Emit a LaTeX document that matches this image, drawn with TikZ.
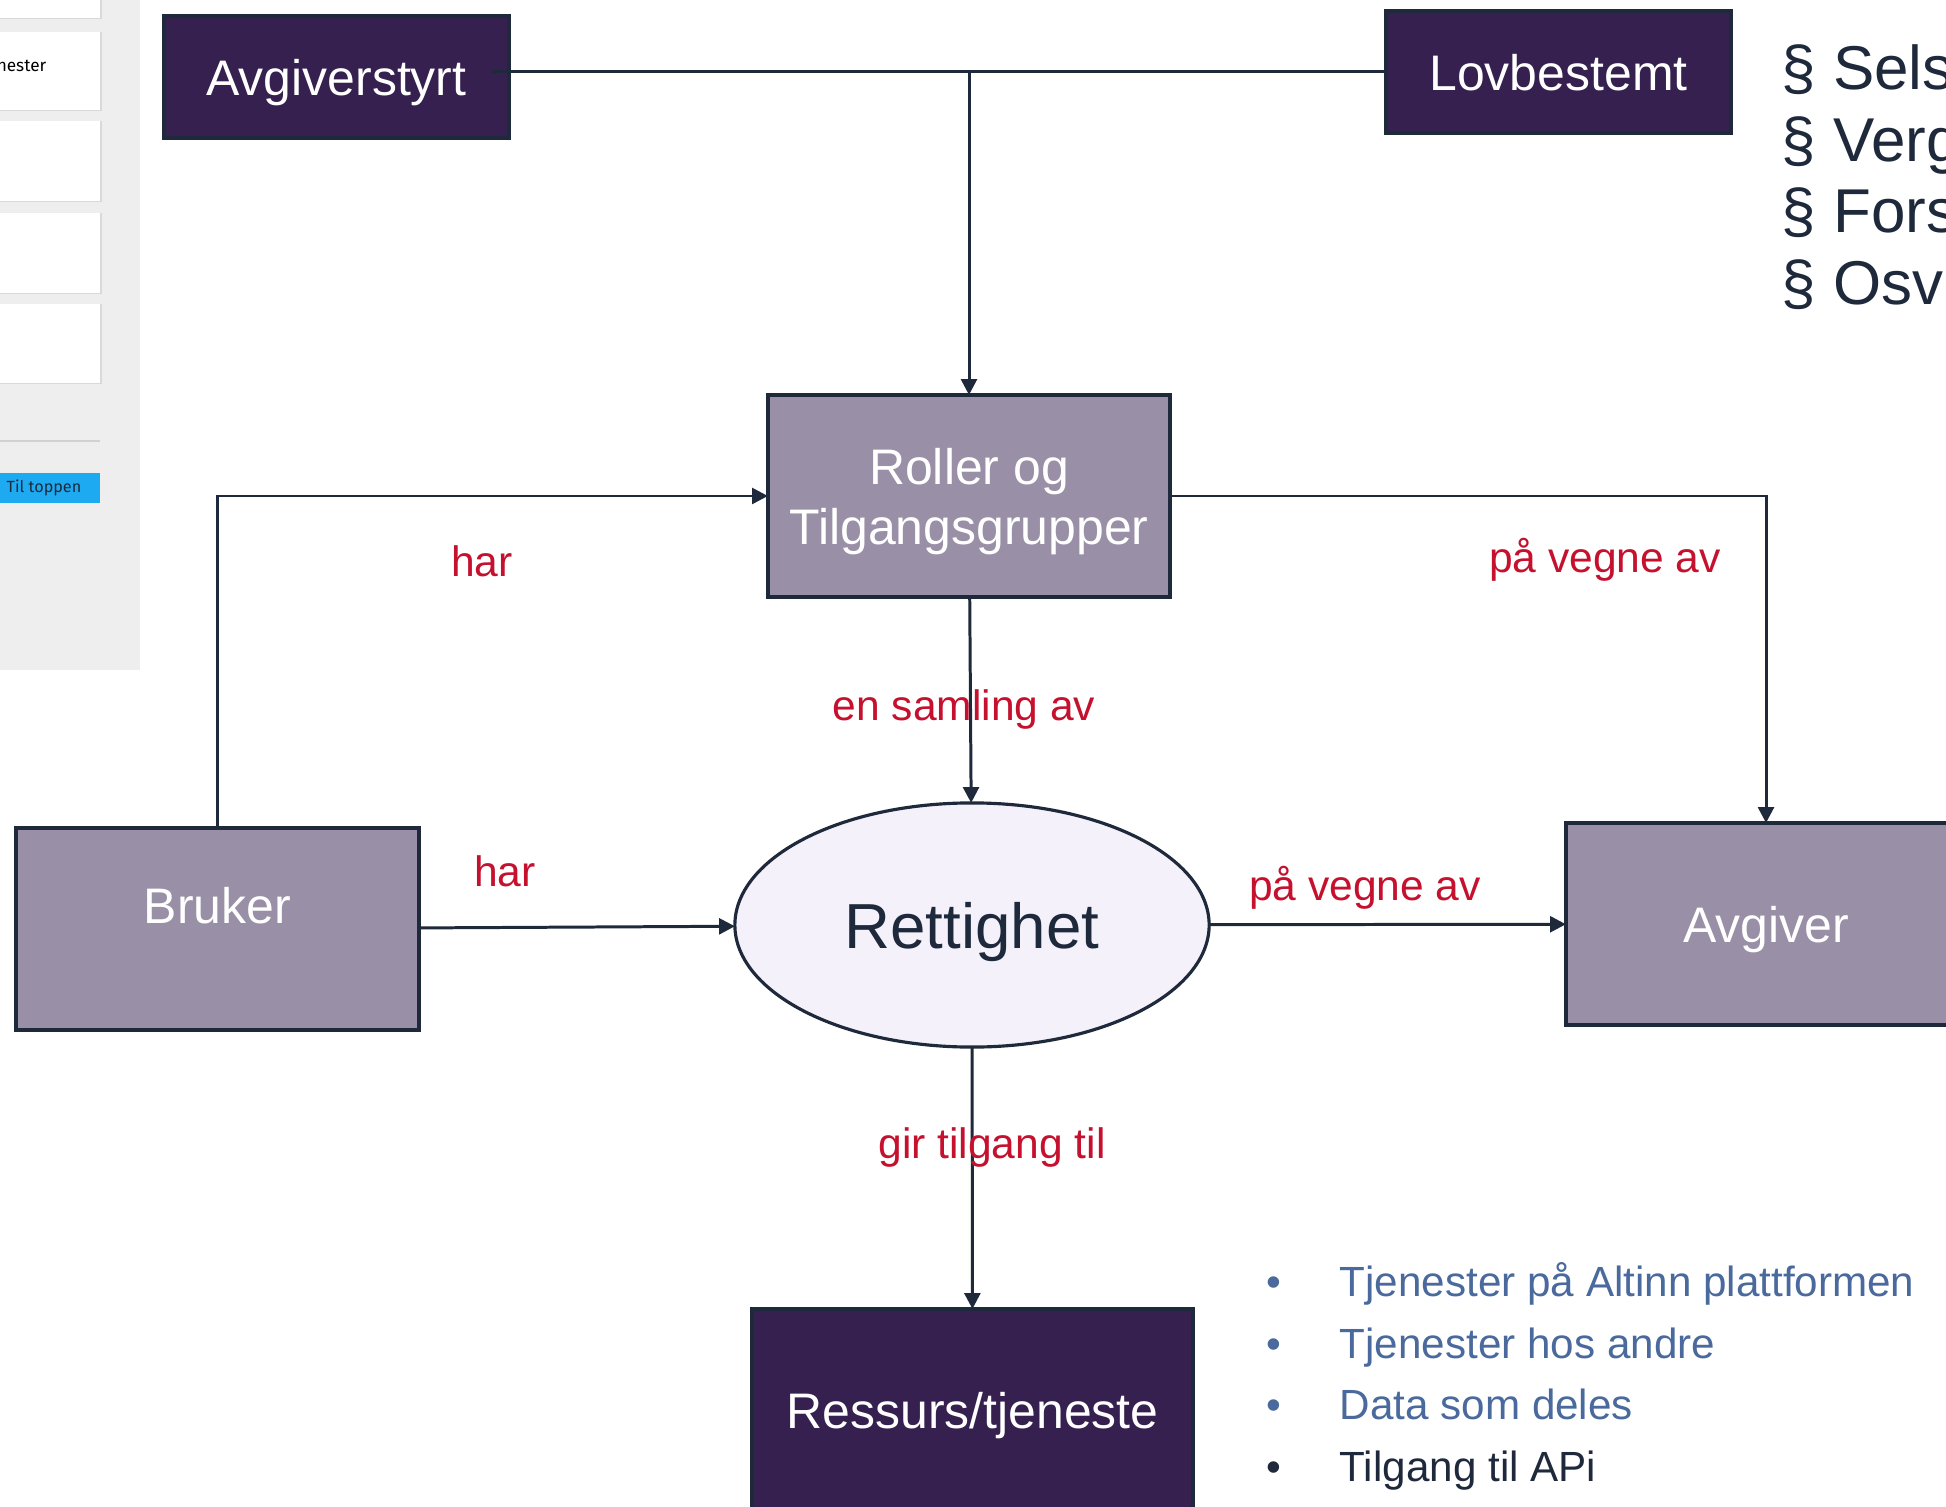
\documentclass[tikz,border=0pt]{standalone}
\usepackage{fontspec}
\setmainfont{Liberation Sans}
\newfontfamily\panelfont{Fira Sans}
\usepackage{tikz}
\usetikzlibrary{shapes.geometric, arrows.meta}
\definecolor{darkpurple}{RGB}{53,32,79}
\definecolor{greypurple}{RGB}{153,143,166}
\definecolor{lightlilac}{RGB}{244,241,251}
\definecolor{inkblue}{RGB}{30,41,59}
\definecolor{linkred}{RGB}{197,16,46}
\definecolor{listblue}{RGB}{74,106,157}
\definecolor{panelgrey}{RGB}{238,238,238}
\definecolor{topblue}{RGB}{29,170,241}
\tikzstyle{darkbox} = [rectangle, draw=inkblue, line width=1pt, fill=darkpurple, text=white, font=\fontsize{14.2}{17.1}\selectfont, text depth=0pt, inner sep=0pt, outer sep=0pt]
\tikzstyle{greybox} = [rectangle, draw=inkblue, line width=1pt, fill=greypurple, text=white, font=\fontsize{14.2}{17.1}\selectfont, align=center, text depth=0pt, minimum height=2.02cm, inner sep=0pt, outer sep=0pt]
\tikzstyle{rightsbox} = [ellipse, draw=inkblue, line width=0.9pt, fill=lightlilac, text=inkblue, font=\fontsize{18.1}{21}\selectfont, text depth=0pt, minimum width=4.74cm, minimum height=2.44cm, inner sep=0pt, outer sep=0pt]
\tikzstyle{arrow} = [line width=0.85pt, draw=inkblue, -{Triangle[length=4.5pt,width=4.5pt]}]
\tikzstyle{link} = [line width=0.85pt, draw=inkblue]
\tikzstyle{linklabel} = [anchor=base, text=linkred, font=\fontsize{12.1}{14.5}\selectfont, inner sep=0pt]
\tikzstyle{lawline} = [anchor=base west, text=inkblue, font=\fontsize{17.6}{21}\selectfont, inner sep=0pt]
\tikzstyle{listline} = [anchor=base west, font=\fontsize{12}{14.4}\selectfont, inner sep=0pt]

\begin{document}
\begin{tikzpicture}[x=0.01cm, y=-0.01cm]
\clip (0,0) rectangle (1946,1507);
\fill [white] (0,0) rectangle (1946,1507);

% side panel of the page
\fill [panelgrey] (0,0) rectangle (140,670);
\fill [black!15] (0,-10) rectangle (101.5,19.5);
\fill [white] (0,-10) rectangle (100,18);
\fill [black!15] (0,32) rectangle (101.5,111.5);
\fill [white] (0,32) rectangle (100,110);
\fill [black!15] (0,121) rectangle (101.5,202.5);
\fill [white] (0,121) rectangle (100,201);
\fill [black!15] (0,213) rectangle (101.5,294.5);
\fill [white] (0,213) rectangle (100,293);
\fill [black!15] (0,304) rectangle (101.5,384.5);
\fill [white] (0,304) rectangle (100,383);
\draw [black!18, line width=0.3pt] (0,441) -- (100,441);
\fill [topblue] (0,473) rectangle (100,503);
\node (cardtext) [anchor=base east, inner sep=0pt, font=\panelfont\fontsize{4.9}{6}\selectfont, text=black] at (47,72) {nester};
\node (totop) [inner sep=0pt, font=\panelfont\fontsize{4.6}{6}\selectfont, text=inkblue] at (44,488) {Til toppen};

% boxes
\node (avgiverstyrt) [darkbox, minimum width=3.45cm, minimum height=1.22cm] at (336.5,77) {Avgiverstyrt};
\node (lovbestemt) [darkbox, minimum width=3.45cm, minimum height=1.22cm] at (1558.5,72) {Lovbestemt};
\node (roller) [greybox, minimum width=4.02cm] at (969,496) {Roller og\\Tilgangsgrupper};
\node (bruker) [greybox, minimum width=4.03cm, text depth=1.34em] at (217.5,929) {Bruker};
\node (avgiver) [greybox, minimum width=4cm] at (1766,924) {Avgiver};
\node (rettighet) [rightsbox] at (972,925) {Rettighet};
\node (ressurs) [darkbox, minimum width=4.41cm, minimum height=2.02cm] at (972.5,1410) {Ressurs/tjeneste};

% connectors
\coordinate (joinleft) at (492,72);
\coordinate (joindown) at (roller.north |- lovbestemt.west);
\draw [link] (lovbestemt.west) -- (joinleft);
\draw [arrow] (joindown) -- (roller);
\draw [arrow] (bruker.north) |- (roller.west);
\draw [arrow] (roller.east) -| (avgiver.north);
\draw [arrow] (roller) -- (rettighet);
\draw [arrow] (bruker) -- (rettighet);
\draw [arrow] (rettighet) -- (avgiver);
\draw [arrow] (rettighet) -- (ressurs);

% labels
\node (harup) [linklabel] at (482,577) {har};
\node (vegneup) [linklabel] at (1605,573) {på vegne av};
\node (samling) [linklabel] at (964,721) {en samling av};
\node (hardown) [linklabel] at (505,886) {har};
\node (vegnedown) [linklabel] at (1365,900) {på vegne av};
\node (tilgang) [linklabel] at (992,1158) {gir tilgang til};

% law list
\node (law1) [lawline] at (1781,90) {§ Sels};
\node (law2) [lawline] at (1781,162) {§ Verg};
\node (law3) [lawline] at (1781,233) {§ Fors};
\node (law4) [lawline] at (1781,305) {§ Osv};

% resource list
\node (item1) [listline, text=listblue] at (1266,1296) {\makebox[0.73cm][l]{\textbullet}Tjenester på Altinn plattformen};
\node (item2) [listline, text=listblue] at (1266,1358) {\makebox[0.73cm][l]{\textbullet}Tjenester hos andre};
\node (item3) [listline, text=listblue] at (1266,1419) {\makebox[0.73cm][l]{\textbullet}Data som deles};
\node (item4) [listline, text=inkblue] at (1266,1481) {\makebox[0.73cm][l]{\textbullet}Tilgang til APi};

\end{tikzpicture}
\end{document}
